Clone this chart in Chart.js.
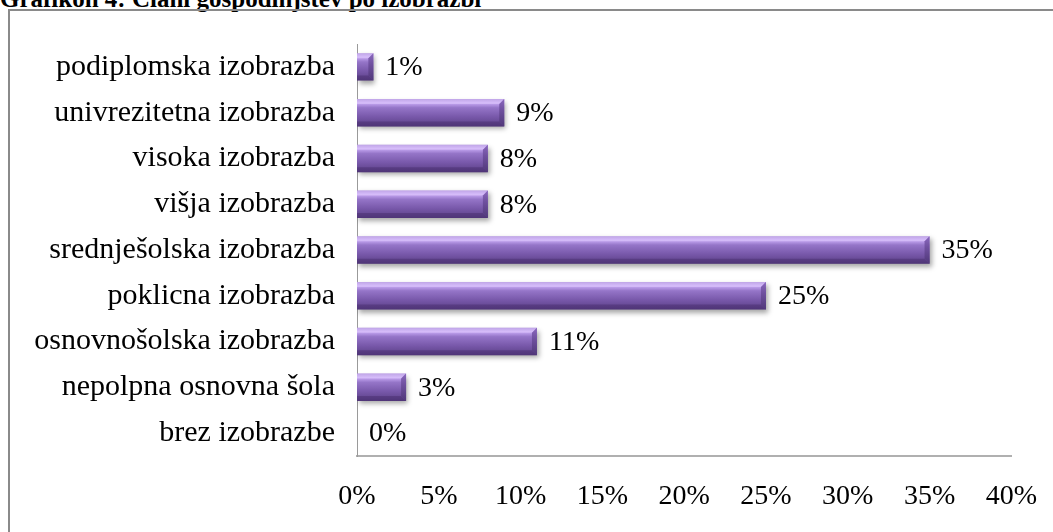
<!DOCTYPE html>
<html>
<head>
<meta charset="utf-8">
<script src="https://cdn.jsdelivr.net/npm/chart.js@4/dist/chart.umd.min.js"></script>
<style>
  html, body { margin: 0; padding: 0; background: #fff; overflow: hidden; }
  #page { position: relative; width: 1053px; height: 532px; overflow: hidden; }
  #title {
    position: absolute; left: 0; top: -14px; margin: 0;
    font: bold 25px "Liberation Serif", "Times New Roman", serif;
    line-height: 26px; color: #000; white-space: nowrap;
  }
  #frame {
    position: absolute; left: 8px; top: 9px; width: 1200px; height: 700px;
    border: 2px solid #8a8a8a;
  }
  #wrap { position: absolute; left: 0; top: 0; width: 1053px; height: 532px; }
</style>
</head>
<body>
<div id="page">
  <div id="title">Grafikon 4: Člani gospodinjstev po izobrazbi</div>
  <div id="frame"></div>
  <div id="wrap"><canvas id="chart" width="1053" height="532"></canvas></div>
</div>
<script>
const categories = [
  "podiplomska izobrazba",
  "univrezitetna izobrazba",
  "visoka izobrazba",
  "višja izobrazba",
  "srednješolska izobrazba",
  "poklicna izobrazba",
  "osnovnošolska izobrazba",
  "nepolpna osnovna šola",
  "brez izobrazbe"
];
const shares = [1, 9, 8, 8, 35, 25, 11, 3, 0];
const xTicks = [0, 5, 10, 15, 20, 25, 30, 35, 40];

const serif = "'Liberation Serif', 'Times New Roman', serif";
const BAR_PCT = 0.6;

function barGradient(context) {
  const chart = context.chart;
  const y = chart.scales.y;
  const area = chart.chartArea;
  if (!y || !area) return "#7a5aad";
  const yc = y.getPixelForValue(context.dataIndex);
  const h = (area.bottom - area.top) / categories.length * BAR_PCT;
  if (!isFinite(yc) || !(h > 0)) return "#7a5aad";
  const g = chart.ctx.createLinearGradient(0, yc - h / 2, 0, yc + h / 2);
  g.addColorStop(0, "#a080d4");
  g.addColorStop(0.14, "#c8aaf5");
  g.addColorStop(0.32, "#9575c8");
  g.addColorStop(0.65, "#7858aa");
  g.addColorStop(1, "#5a3f85");
  return g;
}

// soft drop shadow under bars
const shadowPlugin = {
  id: "shadow",
  beforeDatasetDraw(chart) {
    const ctx = chart.ctx;
    ctx.save();
    ctx.shadowColor = "rgba(0,0,0,0.35)";
    ctx.shadowBlur = 5;
    ctx.shadowOffsetX = 2;
    ctx.shadowOffsetY = 3;
  },
  afterDatasetDraw(chart) {
    chart.ctx.restore();
  }
};

// bevel edges + value labels
const bevelPlugin = {
  id: "bevel",
  afterDatasetsDraw(chart) {
    const ctx = chart.ctx;
    const meta = chart.getDatasetMeta(0);
    meta.data.forEach((bar, i) => {
      const p = bar.getProps(["x", "y", "base", "height"], true);
      const top = p.y - p.height / 2, bot = p.y + p.height / 2;
      const len = p.x - p.base;
      if (len > 1) {
        const b = Math.min(5, len / 2);
        ctx.save();
        ctx.fillStyle = "rgba(230,210,255,0.45)";
        ctx.beginPath();
        ctx.moveTo(p.base, top); ctx.lineTo(p.x, top);
        ctx.lineTo(p.x - b, top + b); ctx.lineTo(p.base, top + b);
        ctx.closePath(); ctx.fill();
        ctx.fillStyle = "rgba(60,35,95,0.35)";
        ctx.beginPath();
        ctx.moveTo(p.base, bot); ctx.lineTo(p.x, bot);
        ctx.lineTo(p.x - b, bot - b); ctx.lineTo(p.base, bot - b);
        ctx.closePath(); ctx.fill();
        const g = ctx.createLinearGradient(0, top, 0, bot);
        g.addColorStop(0, "#8a68bd");
        g.addColorStop(0.4, "#6f509f");
        g.addColorStop(1, "#503879");
        ctx.fillStyle = g;
        ctx.beginPath();
        ctx.moveTo(p.x, top); ctx.lineTo(p.x, bot);
        ctx.lineTo(p.x - b, bot - b); ctx.lineTo(p.x - b, top + b);
        ctx.closePath(); ctx.fill();
        ctx.restore();
      }
      ctx.save();
      ctx.fillStyle = "#000";
      ctx.font = "28px " + serif;
      ctx.textAlign = "left";
      ctx.textBaseline = "middle";
      ctx.fillText(shares[i] + "%", p.x + 12, p.y + 1);
      ctx.restore();
    });
  }
};

new Chart(document.getElementById("chart"), {
  type: "bar",
  data: {
    labels: categories,
    datasets: [{
      data: shares,
      backgroundColor: barGradient,
      borderWidth: 0,
      barPercentage: BAR_PCT,
      categoryPercentage: 1
    }]
  },
  options: {
    indexAxis: "y",
    responsive: false,
    animation: false,
    devicePixelRatio: 1,
    layout: { padding: { left: 10, right: 36, top: 44, bottom: 16 } },
    plugins: { legend: { display: false }, tooltip: { enabled: false } },
    scales: {
      x: {
        min: 0, max: 40,
        afterBuildTicks(scale) { scale.ticks = xTicks.map(v => ({ value: v })); },
        grid: { display: false },
        border: { display: true, color: "#b0b0b0", width: 2 },
        ticks: {
          padding: 16,
          color: "#000",
          font: { family: serif, size: 28 },
          callback: v => v + "%"
        },
        afterFit(scale) { scale.height = 60; }
      },
      y: {
        grid: { display: false },
        border: { display: true, color: "#9a9a9a", width: 1 },
        ticks: {
          padding: 14,
          color: "#000",
          font: { family: serif, size: 30 }
        },
        afterFit(scale) { scale.width = 347; }
      }
    }
  },
  plugins: [shadowPlugin, bevelPlugin]
});
</script>
</body>
</html>
